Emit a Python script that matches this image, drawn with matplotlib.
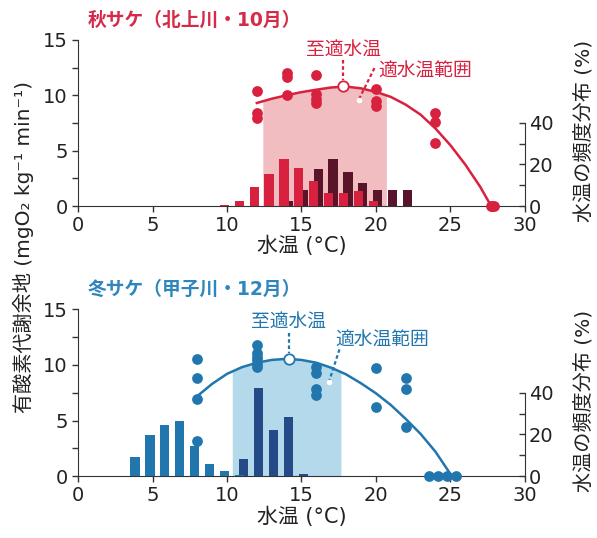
import matplotlib.pyplot as plt
from matplotlib.ticker import MultipleLocator
import numpy as np

plt.rcParams['font.family'] = ['DejaVu Sans', 'Noto Sans CJK JP']

# --- 秋サケ (北上川・10月) ---
aki_curve_t = [12, 13, 14, 15, 16, 17, 18, 19, 20, 21, 22, 23, 24, 25, 26, 27, 27.7]
aki_curve_v = [9.3, 9.68, 10.0, 10.28, 10.5, 10.7, 10.78, 10.62, 10.3, 9.85, 9.15,
               8.25, 7.0, 5.5, 3.75, 1.75, 0.1]
aki_pts_t = [12, 12, 12, 14, 14, 14, 16, 16, 16, 16, 20, 20, 20, 24, 24, 24, 27.7, 27.8, 27.9]
aki_pts_v = [10.35, 8.4, 7.9, 12.0, 11.6, 10.05, 11.85, 10.1, 9.7, 9.3, 10.6, 9.45, 9.0,
             8.4, 7.6, 5.65, 0, 0, 0]
aki_bar1_t = [10, 11, 12, 13, 14, 15, 16, 17, 18, 19, 20]
aki_bar1_v = [0.3, 2.6, 9.2, 15.5, 22.6, 18.1, 11.9, 6.1, 6.3, 7.1, 2.4]
aki_bar2_t = [14, 15, 16, 17, 18, 19, 20, 21, 22]
aki_bar2_v = [2.3, 7.9, 17.6, 22.7, 16.3, 11.3, 7.9, 7.9, 7.9]
aki_range = [12.4, 20.7]
aki_opt = [17.8, 10.8]

# --- 冬サケ (甲子川・12月) ---
fuyu_curve_t = [8, 9, 10, 11, 12, 13, 14, 15, 16, 17, 18, 19, 20, 21, 22, 23, 24, 25]
fuyu_curve_v = [7.2, 8.3, 9.2, 9.8, 10.2, 10.45, 10.55, 10.45, 10.2, 9.75, 9.15, 8.35,
                7.45, 6.4, 5.15, 3.8, 2.2, 0.2]
fuyu_pts_t = [8, 8, 8, 8, 12, 12, 12, 12, 12, 12, 16, 16, 16, 16, 20, 20, 22, 22, 22,
              23.6, 24.2, 24.8, 25.4]
fuyu_pts_v = [10.5, 8.8, 6.95, 3.2, 11.8, 11.05, 10.7, 10.4, 10.1, 9.85, 9.85, 9.3,
              7.85, 7.3, 9.7, 6.25, 8.8, 7.85, 4.45, 0, 0, 0, 0]
fuyu_bar1_t = [4, 5, 6, 7, 8, 9, 10, 11]
fuyu_bar1_v = [9.4, 19.5, 24.4, 26.6, 14.5, 5.6, 2.6, 0.4]
fuyu_bar2_t = [11, 12, 13, 14, 15]
fuyu_bar2_v = [8.2, 42.3, 22.3, 28.2, 0.8]
fuyu_range = [10.35, 17.65]
fuyu_opt = [14.15, 10.55]

panels = [
    dict(title='秋サケ（北上川・10月）', ct=aki_curve_t, cv=aki_curve_v,
         pt=aki_pts_t, pv=aki_pts_v, b1t=aki_bar1_t, b1v=aki_bar1_v,
         b2t=aki_bar2_t, b2v=aki_bar2_v, rng=aki_range, opt=aki_opt,
         main='#d8203f', title_c='#d62a4a', shade='#f2bdc0', dark='#5a1429',
         rect=[0.131, 0.617, 0.748, 0.309],
         opt_lbl=(17.8, 14.1, 13.2, 11.35), rng_lbl=(20.15, 12.15, (19.9, 12.45), (18.85, 9.6))),
    dict(title='冬サケ（甲子川・12月）', ct=fuyu_curve_t, cv=fuyu_curve_v,
         pt=fuyu_pts_t, pv=fuyu_pts_v, b1t=fuyu_bar1_t, b1v=fuyu_bar1_v,
         b2t=fuyu_bar2_t, b2v=fuyu_bar2_v, rng=fuyu_range, opt=fuyu_opt,
         main='#2176ae', title_c='#2f86bf', shade='#b3d9eb', dark='#244a88',
         rect=[0.131, 0.115, 0.748, 0.310],
         opt_lbl=(14.1, 13.8, 12.9, 11.1), rng_lbl=(17.25, 12.25, (17.55, 11.4), (16.85, 8.5))),
]

fig = plt.figure(figsize=(5.97, 5.38), dpi=100)
txt_c = '#222222'

for p in panels:
    ax = fig.add_axes(p['rect'])       # shading (left units)
    axb = ax.twinx()                   # bars (right units)
    axc = ax.twinx()                   # curve + points (left units)

    ax.set_xlim(0, 30)
    for a in (ax, axc):
        a.set_ylim(0, 15)
    axb.set_ylim(0, 80)

    # shaded optimal range under the curve
    xs = [p['rng'][0]] + [t for t in p['ct'] if p['rng'][0] < t < p['rng'][1]] + [p['rng'][1]]
    ys = np.interp(xs, p['ct'], p['cv'])
    ax.fill_between(xs, 0, ys, color=p['shade'], lw=0)

    # frequency bars
    axb.bar(np.array(p['b2t']) + 0.12, p['b2v'], width=0.62, color=p['dark'])
    axb.bar(np.array(p['b1t']) - 0.18, p['b1v'], width=0.62, color=p['main'])

    # curve and points
    axc.plot(p['ct'], p['cv'], color=p['main'], lw=1.8, clip_on=False, zorder=3)
    axc.scatter(p['pt'], p['pv'], s=60, color=p['main'], clip_on=False, zorder=4, lw=0)

    # annotations
    ox, oy = p['opt']
    lx, ly, l0, l1 = p['opt_lbl']
    axc.plot([ox, ox], [l0, l1], color=p['main'], lw=1.6, ls=(0, (1.6, 1.2)), zorder=5)
    axc.plot(ox, oy, 'o', mfc='white', mec=p['main'], ms=7.5, mew=1.3, zorder=6, clip_on=False)
    axc.text(lx, ly, '至適水温', ha='center', va='center', color=p['main'], fontsize=13.5)
    rx, ry, (a0x, a0y), (a1x, a1y) = p['rng_lbl']
    axc.plot([a0x, a1x], [a0y, a1y], color=p['main'], lw=1.6, ls=(0, (1.6, 1.2)), zorder=5)
    axc.plot(a1x, a1y, 'o', mfc='white', mec='white', ms=3, zorder=5)
    axc.text(rx, ry, '適水温範囲', ha='left', va='center', color=p['main'], fontsize=13.5)

    ax.text(0.022, 1.12, p['title'], transform=ax.transAxes, color=p['title_c'],
            fontsize=13.5, fontweight='bold', ha='left', va='center')

    # spines
    for s in ('top', 'right'):
        ax.spines[s].set_visible(False)
    for s in axb.spines:
        axb.spines[s].set_visible(s == 'right')
    for s in axc.spines:
        axc.spines[s].set_visible(False)
    axc.yaxis.set_visible(False)
    axb.spines['right'].set_bounds(0, 40)
    for s in ('left', 'bottom'):
        ax.spines[s].set_color('#333333')
    axb.spines['right'].set_color('#333333')

    ax.set_xticks(range(0, 31, 5))
    ax.set_yticks([0, 5, 10, 15])
    ax.yaxis.set_minor_locator(MultipleLocator(2.5))
    ax.tick_params(axis='both', which='both', labelsize=14, color='#333333', labelcolor=txt_c,
                   length=4, width=1)
    ax.tick_params(axis='x', pad=3)
    axb.set_yticks([0, 20, 40])
    axb.set_yticks([10, 30], minor=True)
    axb.tick_params(axis='y', which='both', direction='in', length=4, width=1,
                    labelsize=14, color='#333333', labelcolor=txt_c, pad=3)

    ax.set_xlabel('水温 (°C)', fontsize=15, color=txt_c, labelpad=1)
    axb.set_ylabel('水温の頻度分布 (%)', fontsize=14.5, color=txt_c)
    axb.yaxis.set_label_coords(1.11, 0.45)

fig.text(0.04, 0.54, '有酸素代謝余地 (mgO₂ kg⁻¹ min⁻¹)', rotation=90,
         ha='center', va='center', fontsize=14.5, color=txt_c)

fig.savefig('out.png', dpi=100)
